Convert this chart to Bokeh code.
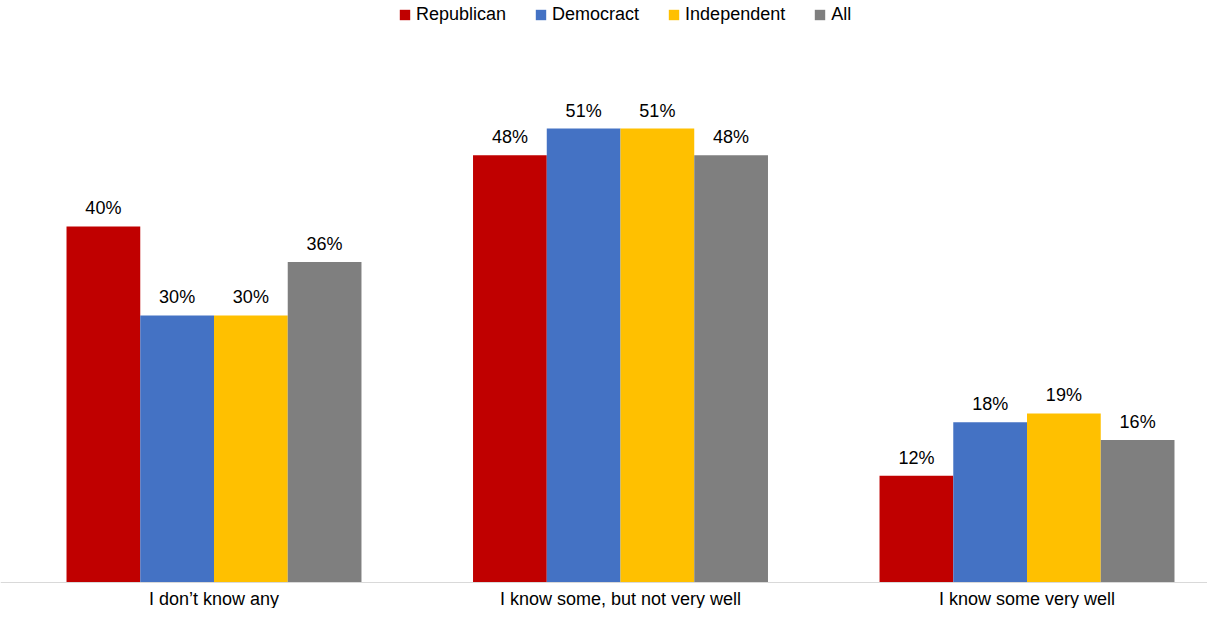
from bokeh.plotting import figure
from bokeh.models import ColumnDataSource, Range1d, Span, Legend, LegendItem
from bokeh.core.properties import value
from bokeh.embed import file_html
from bokeh.resources import INLINE

categories = ["I don\u2019t know any", "I know some, but not very well", "I know some very well"]
series = ["Republican", "Democract", "Independent", "All"]
republican = [40, 48, 12]
democrat = [30, 51, 18]
independent = [30, 51, 19]
all_resp = [36, 48, 16]
colors = ["#C00000", "#4472C4", "#FFC000", "#7F7F7F"]

FONT = "Liberation Sans"
bar_w = 0.1814

p = figure(width=1207, height=608, output_backend="svg", toolbar_location=None,
           x_range=Range1d(-0.5252, 2.4440), y_range=Range1d(-2.921, 65.39),
           min_border=0, min_border_left=0, min_border_right=0,
           min_border_top=0, min_border_bottom=0)
p.xaxis.visible = False
p.yaxis.visible = False
p.xgrid.visible = False
p.ygrid.visible = False
p.outline_line_color = None

xs = list(range(len(categories)))
items = []
for i, (name, vals, col) in enumerate(zip(series, [republican, democrat, independent, all_resp], colors)):
    off = (i - 1.5) * bar_w
    src = ColumnDataSource(dict(x=[x + off for x in xs], top=vals,
                                lab=[f"{v}%" for v in vals]))
    r = p.vbar(x="x", top="top", bottom=0, width=bar_w, source=src,
               fill_color=col, line_color=None)
    p.text(x="x", y="top", text="lab", source=src, text_align="center",
           text_baseline="middle", y_offset=-18, text_font=value(FONT),
           text_font_size="18px", text_color="#000000")
    items.append(LegendItem(label=name, renderers=[r]))

p.add_layout(Span(location=0, dimension="width", line_color="#D9D9D9", line_width=1))

csrc = ColumnDataSource(dict(x=xs, y=[-1.798] * len(xs), t=categories))
p.text(x="x", y="y", text="t", source=csrc, text_align="center", text_baseline="middle",
       text_font=value(FONT), text_font_size="18px", text_color="#000000")

legend = Legend(items=items, orientation="horizontal", location=(398, 583),
                padding=0, margin=0, border_line_color=None, background_fill_alpha=0,
                glyph_width=13, glyph_height=13, label_standoff=5, spacing=28,
                label_text_font=FONT, label_text_font_size="18px", label_text_color="#000000")
p.add_layout(legend, "center")

open("out.html", "w").write(file_html(p, INLINE))
